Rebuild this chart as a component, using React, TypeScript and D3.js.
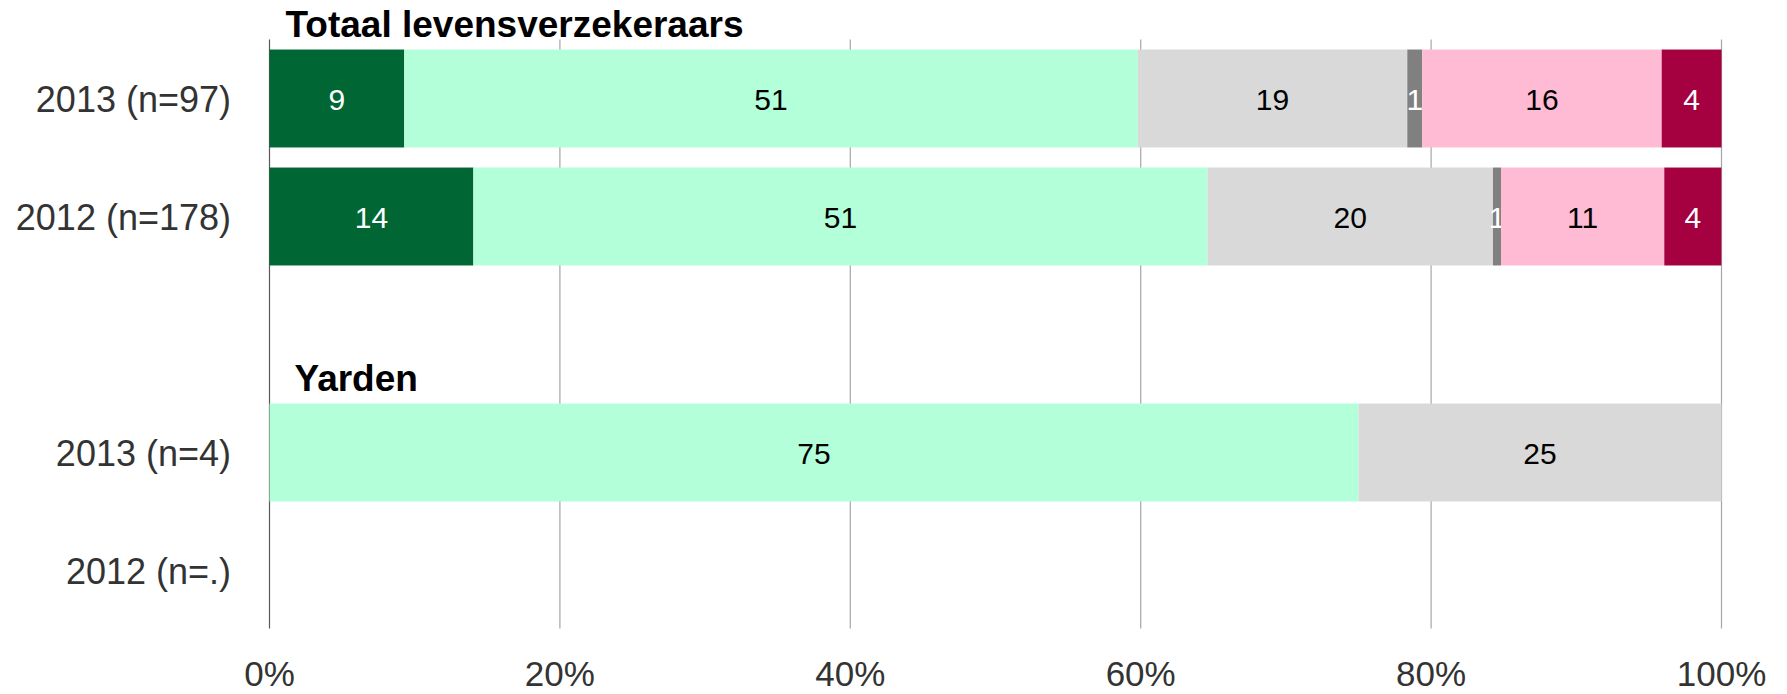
import React from "react";
import * as d3 from "d3";

const rowKeys = ["t2013", "t2012", "gap", "y2013", "y2012"];
const rowLabels = ["2013 (n=97)", "2012 (n=178)", "", "2013 (n=4)", "2012 (n=.)"];
const groupTitles = ["Totaal levensverzekeraars", "Yarden"];
const groupTitleRows = ["t2013", "y2013"];
const groupTitleIndent = [16, 25];

const seriesKeys = ["s1", "s2", "s3", "s4", "s5", "s6"];
const seriesColors = ["#006633", "#B3FFD9", "#D9D9D9", "#808080", "#FFBBD4", "#A50040"];
const seriesTextColors = ["#ffffff", "#000000", "#000000", "#ffffff", "#000000", "#ffffff"];

// percentages per row (t2013, t2012, gap, y2013, y2012)
const s1 = [9.28, 14.04, 0, 0, 0];
const s2 = [50.52, 50.56, 0, 75, 0];
const s3 = [18.56, 19.66, 0, 25, 0];
const s4 = [1.03, 0.56, 0, 0, 0];
const s5 = [16.49, 11.24, 0, 0, 0];
const s6 = [4.12, 3.93, 0, 0, 0];

const xTicks = [0, 20, 40, 60, 80, 100];

const W = 1787;
const H = 694;

export default function App() {
  const seriesValues = [s1, s2, s3, s4, s5, s6];
  const table = rowKeys.map((k, i) => {
    const o: any = { row: k };
    seriesKeys.forEach((s, j) => (o[s] = seriesValues[j][i]));
    return o;
  });
  const stacked = d3.stack().keys(seriesKeys)(table as any);

  const x = d3.scaleLinear().domain([0, 100]).range([269.5, 1721.5]);
  const y = d3
    .scaleBand()
    .domain(rowKeys)
    .range([39.5, 629.5])
    .paddingInner(0.17)
    .paddingOuter(0.085);
  const bw = y.bandwidth();
  const font = "'Liberation Sans', Arial, sans-serif";

  return (
    <svg
      width={W}
      height={H}
      style={{ position: "absolute", left: 0, top: 0, background: "#fff" }}
      fontFamily={font}
    >
      {/* gridlines */}
      {xTicks.map((t) => (
        <line
          key={"g" + t}
          x1={x(t)}
          x2={x(t)}
          y1={39.5}
          y2={628.5}
          stroke={t === 0 ? "#595959" : "#A6A6A6"}
          strokeWidth={1.2}
        />
      ))}
      {/* bars */}
      {stacked.map((layer, si) => (
        <g key={layer.key}>
          {layer.map((d, ri) => {
            const v = d[1] - d[0];
            if (v <= 0) return null;
            const row = rowKeys[ri];
            const y0 = y(row) as number;
            return (
              <g key={row}>
                <rect
                  x={x(d[0])}
                  y={y0}
                  width={x(d[1]) - x(d[0])}
                  height={bw}
                  fill={seriesColors[si]}
                />
                <text
                  x={(x(d[0]) + x(d[1])) / 2}
                  y={y0 + bw / 2 + 11}
                  textAnchor="middle"
                  fontSize={30}
                  fill={seriesTextColors[si]}
                >
                  {Math.round(v)}
                </text>
              </g>
            );
          })}
        </g>
      ))}
      {/* row labels */}
      {rowKeys.map((k, i) =>
        rowLabels[i] ? (
          <text
            key={"l" + k}
            x={231}
            y={(y(k) as number) + bw / 2 + 13}
            textAnchor="end"
            fontSize={36}
            fill="#333333"
          >
            {rowLabels[i]}
          </text>
        ) : null
      )}
      {/* group titles */}
      {groupTitles.map((t, i) => (
        <text
          key={"t" + i}
          x={x(0) + groupTitleIndent[i]}
          y={(y(groupTitleRows[i]) as number) - 13}
          fontSize={37}
          fontWeight="bold"
          fill="#000"
        >
          {t}
        </text>
      ))}
      {/* x tick labels */}
      {xTicks.map((t) => (
        <text
          key={"x" + t}
          x={x(t)}
          y={686}
          textAnchor="middle"
          fontSize={35}
          fill="#333333"
        >
          {t + "%"}
        </text>
      ))}
    </svg>
  );
}
